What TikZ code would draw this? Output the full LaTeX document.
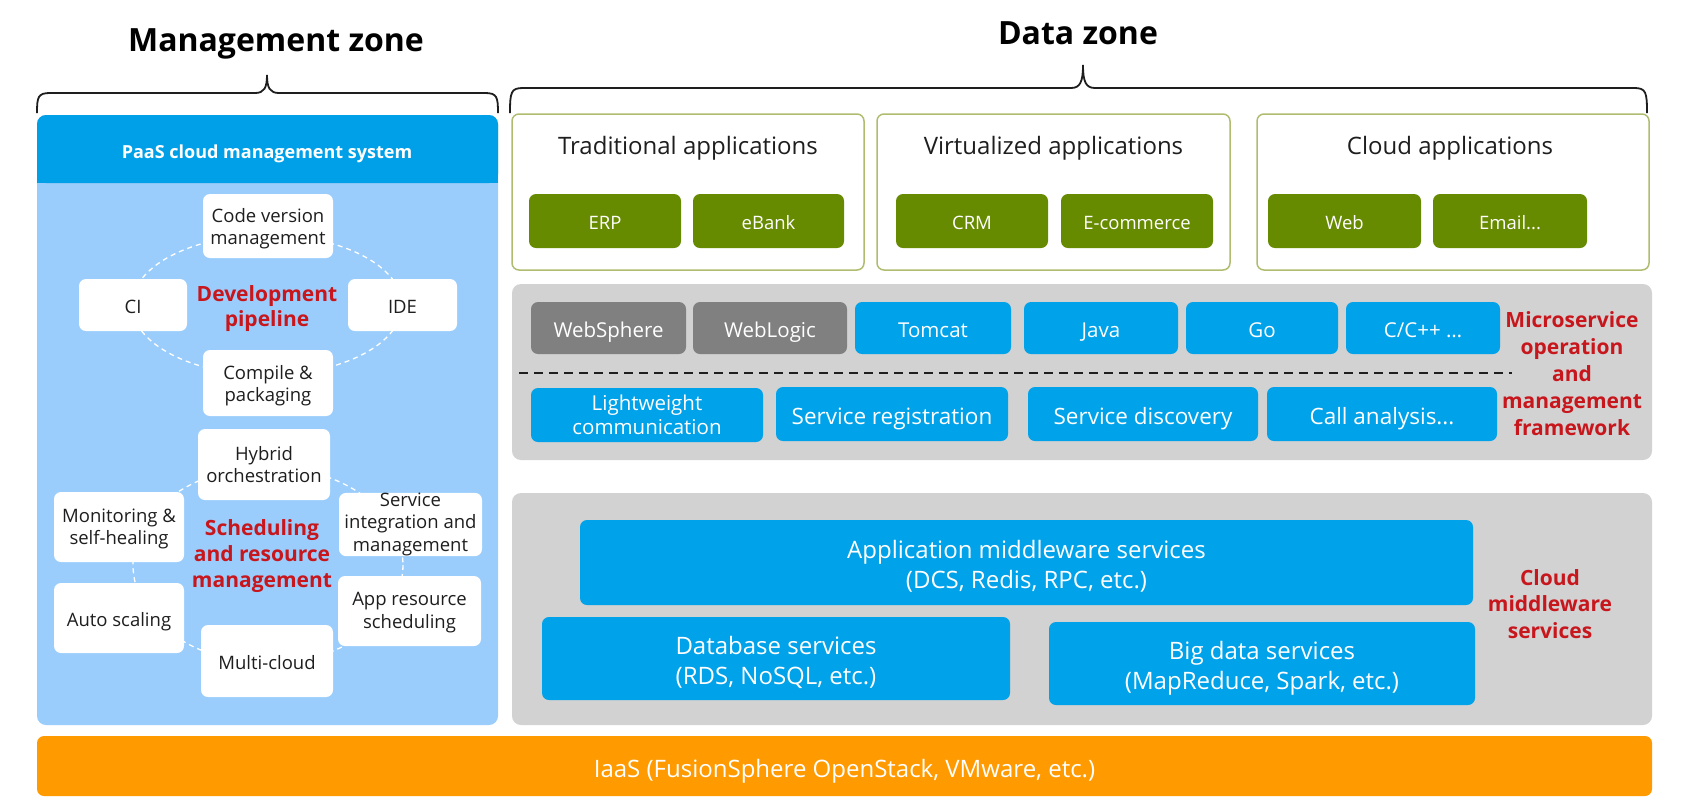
\documentclass[tikz,border=0pt]{standalone}
\usepackage{fontspec}
\setmainfont{Open Sans}
\definecolor{hdrblue}{HTML}{00A0E8}
\definecolor{lightblue}{HTML}{9ACDFB}
\definecolor{sky}{HTML}{00A2EA}
\definecolor{grn}{HTML}{668A00}
\definecolor{grnline}{HTML}{B0BC70}
\definecolor{panel}{HTML}{D2D2D2}
\definecolor{dgray}{HTML}{808080}
\definecolor{orng}{HTML}{FF9A00}
\definecolor{redt}{HTML}{C8161D}
\definecolor{txt}{HTML}{1E1E1E}
\newcommand{\firststrut}[1]{\rule{0pt}{#1em}}
\tikzset{
  vfix/.style={execute at begin node={\rule{0pt}{1.2em}}, execute at end node={\rule[-0.25em]{0pt}{0pt}}},
  base/.style={rounded corners=7pt, inner sep=0pt, align=center},
  tbase/.style={base, vfix},
  wbox/.style={tbase, fill=white, text=txt, font=\fontsize{18.5}{22.5}\selectfont},
  gbox/.style={tbase, fill=grn, text=white, font=\fontsize{18.5}{22}\selectfont},
  sbox/.style={tbase, fill=sky, text=white, font=\fontsize{20.5}{24}\selectfont},
  dbox/.style={tbase, fill=dgray, text=white, font=\fontsize{20.5}{24}\selectfont},
  mbox/.style={tbase, fill=sky, text=white, font=\fontsize{24}{30.5}\selectfont},
  appbox/.style={base, draw=grnline, line width=1.5pt, fill=white},
  graypanel/.style={base, fill=panel, rounded corners=9pt},
  apptitle/.style={inner sep=0pt, vfix, text=txt, font=\fontsize{24}{29}\selectfont},
  redlabel/.style={inner sep=0pt, vfix, align=center, text=redt, font=\fontsize{21}{26.5}\selectfont\bfseries},
  zonetitle/.style={inner sep=0pt, vfix, text=black, font=\fontsize{32}{38}\selectfont\bfseries},
  bracestyle/.style={draw=txt, line width=1.8pt},
  ring/.style={draw=white, line width=1.3pt, dash pattern=on 5pt off 4pt},
}
\begin{document}
\begin{tikzpicture}[x=1pt, y=-1pt]
\useasboundingbox (0,0) rectangle (1682,807);
\fill[white] (0,0) rectangle (1682,807);

% ---------- titles and braces ----------
\node[zonetitle] (mzt) at (276,36.5) {Management zone};
\node[zonetitle] (dzt) at (1078,29) {Data zone};
\draw[bracestyle] (37,113) .. controls (37,97) and (38,93) .. (50,93) -- (255,93)
  .. controls (264,93) and (267,88) .. (267,75)
  .. controls (267,88) and (270,93) .. (279,93) -- (485,93)
  .. controls (497,93) and (498,97) .. (498,113);
\draw[bracestyle] (510,113) .. controls (510,92) and (511,88) .. (523,88) -- (1071,88)
  .. controls (1080,88) and (1083,82) .. (1083,65)
  .. controls (1083,82) and (1086,88) .. (1095,88) -- (1634,88)
  .. controls (1646,88) and (1647,92) .. (1647,113);

% ---------- management zone ----------
\node[base, fill=lightblue, rounded corners=9pt, minimum width=461pt, minimum height=610pt] (mpanel) at (267.5,420) {};
\fill[hdrblue, rounded corners=9pt] (37,115) rectangle (498,183);
\fill[hdrblue] (37,150) rectangle (498,183);
\node[inner sep=0pt, vfix, text=white, font=\fontsize{18}{22}\selectfont\bfseries] (hdr) at (267,150) {PaaS cloud management system};

\draw[ring] (267,305) ellipse [x radius=135, y radius=70];
\draw[ring] (268,565) ellipse [x radius=135, y radius=98];

\node[wbox, minimum width=130pt, minimum height=64pt] (cvm) at (268,226) {\firststrut{1.05}Code version\\management};
\node[wbox, minimum width=108pt, minimum height=52pt] (ci) at (133,305) {CI};
\node[wbox, minimum width=109pt, minimum height=52pt] (ide) at (402.5,305) {IDE};
\node[wbox, minimum width=130pt, minimum height=66pt] (cpk) at (268,383) {\firststrut{1.08}Compile \&\\packaging};
\node[redlabel, font=\fontsize{21}{25.5}\selectfont\bfseries] (devp) at (267,308.5) {Development\\pipeline};

\node[wbox, minimum width=132pt, minimum height=71pt] (hyb) at (264,464.5) {\firststrut{1.02}Hybrid\\orchestration};
\node[wbox, minimum width=130pt, minimum height=70pt] (mon) at (119,527) {\firststrut{0.95}Monitoring \&\\self-healing};
\node[wbox, minimum width=143pt, minimum height=63pt] (sim) at (410.5,524.5) {Service\\integration and\\management};
\node[wbox, minimum width=130pt, minimum height=70pt] (aut) at (119,618) {Auto scaling};
\node[wbox, minimum width=143pt, minimum height=70pt] (ars) at (409.5,611) {\firststrut{0.9}App resource\\scheduling};
\node[wbox, minimum width=132pt, minimum height=72pt] (mcl) at (267,661) {Multi-cloud};
\node[redlabel, font=\fontsize{21}{25.8}\selectfont\bfseries] (schd) at (262,556) {Scheduling\\and resource\\management};

% ---------- data zone: applications ----------
\node[appbox, minimum width=352pt, minimum height=156pt] (trad) at (688,192) {};
\node[appbox, minimum width=353pt, minimum height=156pt] (virt) at (1053.5,192) {};
\node[appbox, minimum width=392pt, minimum height=156pt] (cloud) at (1453,192) {};
\node[apptitle] (tradt) at (688,143) {Traditional applications};
\node[apptitle] (virtt) at (1053.5,143) {Virtualized applications};
\node[apptitle] (cloudt) at (1450,143) {Cloud applications};
\node[gbox, minimum width=152pt, minimum height=54pt] (erp) at (605,221) {ERP};
\node[gbox, minimum width=151pt, minimum height=54pt] (ebank) at (768.5,221) {eBank};
\node[gbox, minimum width=152pt, minimum height=54pt] (crm) at (972,221) {CRM};
\node[gbox, minimum width=152pt, minimum height=54pt] (ecom) at (1137,221) {E-commerce};
\node[gbox, minimum width=153pt, minimum height=54pt] (web) at (1344.5,221) {Web};
\node[gbox, minimum width=154pt, minimum height=54pt] (email) at (1510,221) {Email...};

% ---------- microservice framework ----------
\node[graypanel, minimum width=1140pt, minimum height=176pt] (mspanel) at (1082,372) {};
\node[dbox, minimum width=155pt, minimum height=52pt] (wsph) at (608.5,328) {WebSphere};
\node[dbox, minimum width=154pt, minimum height=52pt] (wlog) at (770,328) {WebLogic};
\node[sbox, minimum width=156pt, minimum height=52pt] (tomc) at (933,328) {Tomcat};
\node[sbox, minimum width=154pt, minimum height=52pt] (java) at (1101,328) {Java};
\node[sbox, minimum width=152pt, minimum height=52pt] (go) at (1262,328) {Go};
\node[sbox, minimum width=154pt, minimum height=52pt] (cpp) at (1423,328) {C/C++ \ldots};
\coordinate (dl) at (519,373);
\coordinate (dr) at (1512,373);
\draw[txt, line width=2pt, dash pattern=on 9pt off 6pt] (dl) -- (dr);
\node[sbox, minimum width=232pt, minimum height=54pt] (lwc) at (647,415) {\firststrut{0.96}Lightweight\\communication};
\node[sbox, minimum width=232pt, minimum height=54pt, font=\fontsize{22.5}{26}\selectfont] (sreg) at (892,414) {Service registration};
\node[sbox, minimum width=230pt, minimum height=54pt, font=\fontsize{22.5}{26}\selectfont] (sdis) at (1143,414) {Service discovery};
\node[sbox, minimum width=230pt, minimum height=54pt, font=\fontsize{22.5}{26}\selectfont] (call) at (1382,414) {Call analysis...};
\node[redlabel, font=\fontsize{21}{27}\selectfont\bfseries] (msl) at (1572,376.5) {Microservice\\operation\\and\\management\\framework};

% ---------- cloud middleware ----------
\node[graypanel, minimum width=1140pt, minimum height=232pt] (cmpanel) at (1082,609) {};
\node[mbox, minimum width=893pt, minimum height=85pt] (amw) at (1026.5,562.5) {\firststrut{1.16}Application middleware services\\(DCS, Redis, RPC, etc.)};
\node[mbox, minimum width=468pt, minimum height=83pt] (dbs) at (776,658.5) {\firststrut{1.16}Database services\\(RDS, NoSQL, etc.)};
\node[mbox, minimum width=426pt, minimum height=83pt] (bds) at (1262,663.5) {\firststrut{1.16}Big data services\\(MapReduce, Spark, etc.)};
\node[redlabel, font=\fontsize{21}{26.3}\selectfont\bfseries] (cml) at (1550,606.5) {Cloud\\middleware\\services};

% ---------- IaaS ----------
\node[tbase, fill=orng, text=white, minimum width=1615pt, minimum height=60pt, font=\fontsize{24}{29}\selectfont] (iaas) at (844.5,766) {IaaS (FusionSphere OpenStack, VMware, etc.)};
\end{tikzpicture}
\end{document}
